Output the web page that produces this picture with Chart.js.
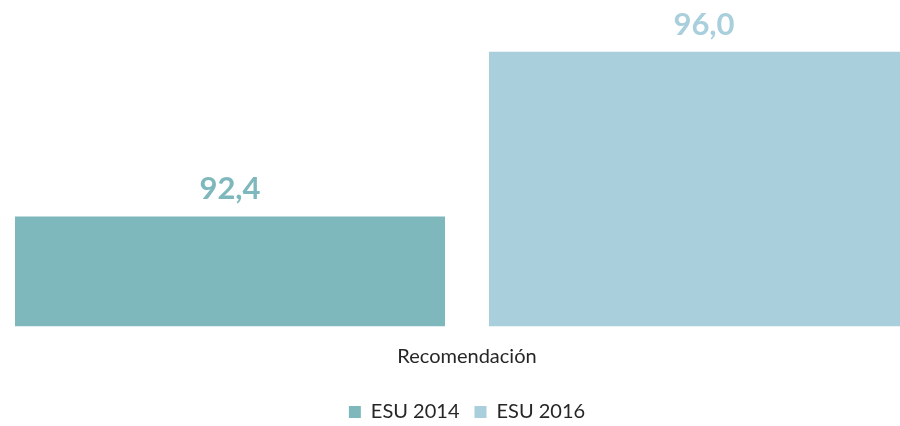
<!DOCTYPE html>
<html>
<head>
<meta charset="utf-8">
<script src="https://cdn.jsdelivr.net/npm/chart.js@4/dist/chart.umd.min.js"></script>
<style>
  html, body { margin: 0; padding: 0; background: #fff; overflow: hidden; }
  #wrap { position: absolute; left: -7px; top: 0; width: 948px; height: 426px; }
</style>
</head>
<body>
<div id="wrap"><canvas id="chart"></canvas></div>
<script>
const categories = ["Recomendación"];
const seriesNames = ["ESU 2014", "ESU 2016"];
const esu2014 = [92.4];
const esu2016 = [96.0];
const colors = ["#7fb8bc", "#a9cedc"];

// value labels above each bar, comma decimal
const valueLabels = {
  id: "valueLabels",
  afterDatasetsDraw(chart) {
    const ctx = chart.ctx;
    ctx.save();
    ctx.font = "bold 31px Lato";
    ctx.textAlign = "center";
    ctx.textBaseline = "middle";
    chart.data.datasets.forEach((ds, i) => {
      chart.getDatasetMeta(i).data.forEach((bar, j) => {
        ctx.fillStyle = ds.backgroundColor;
        ctx.fillText(ds.data[j].toFixed(1).replace(".", ","), bar.x, bar.y - 27);
      });
    });
    ctx.restore();
  },
};

const ctx = document.getElementById("chart").getContext("2d");
new Chart(ctx, {
  type: "bar",
  data: {
    labels: categories,
    datasets: [
      { label: seriesNames[0], data: esu2014, backgroundColor: colors[0] },
      { label: seriesNames[1], data: esu2016, backgroundColor: colors[1] },
    ],
  },
  options: {
    responsive: true,
    maintainAspectRatio: false,
    animation: false,
    categoryPercentage: 1,
    barPercentage: 430 / 474,
    layout: { padding: { top: 29, bottom: -6, left: 0, right: 0 } },
    plugins: {
      tooltip: { enabled: false },
      legend: {
        position: "bottom",
        labels: {
          font: { family: "Lato", size: 20 },
          color: "#262626",
          boxWidth: 12,
          boxHeight: 12,
          padding: 15,
        },
      },
    },
    scales: {
      y: {
        display: false,
        min: 90,
        max: 96.5,
      },
      x: {
        grid: { display: false, drawTicks: false },
        border: { display: false },
        ticks: {
          font: { family: "Lato", size: 20, lineHeight: 1.64 },
          color: "#262626",
          padding: 14,
        },
      },
    },
  },
  plugins: [valueLabels],
});
</script>
</body>
</html>
